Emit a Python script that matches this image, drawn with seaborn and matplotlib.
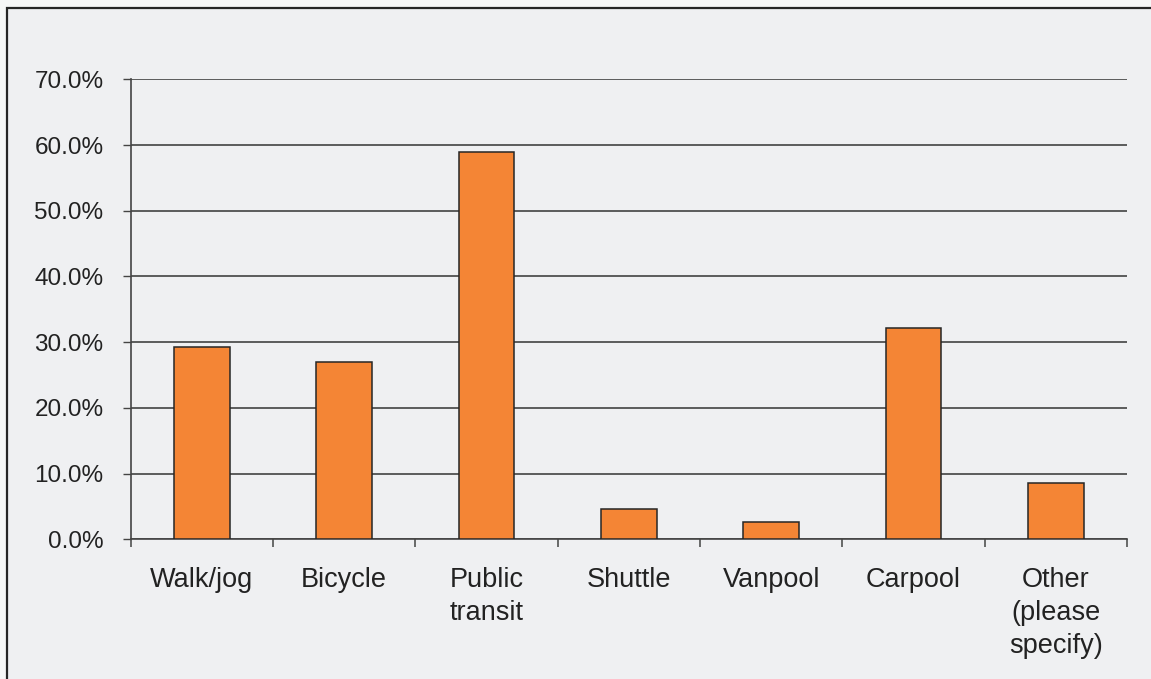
import matplotlib
matplotlib.use("Agg")
import matplotlib.pyplot as plt
from matplotlib.patches import Rectangle
from matplotlib.ticker import FuncFormatter, FixedLocator
import seaborn as sns
import pandas as pd

# Commute mode shares (percent of respondents)
modes = ["Walk/jog", "Bicycle", "Public\ntransit", "Shuttle", "Vanpool",
         "Carpool", "Other\n(please\nspecify)"]
shares = [29.2, 27.0, 59.0, 4.6, 2.7, 32.2, 8.5]
y_ticks = [0, 10, 20, 30, 40, 50, 60, 70]

df = pd.DataFrame({"mode": modes, "share": shares})

sns.set_theme(style="white")
plt.rcParams["font.family"] = ["Liberation Sans", "DejaVu Sans"]

W, H = 1151, 679
fig = plt.figure(figsize=(W / 100, H / 100), dpi=100, facecolor="#f6f7f7")

# Panel background with a dark frame on its left and top edges
frame = Rectangle((7 / W, -0.5), 2.0, 1.5 - 8 / H,
                  transform=fig.transFigure, facecolor="#eff0f2",
                  edgecolor="#262626", linewidth=1.6, zorder=-10)
fig.patches.append(frame)

ax = fig.add_axes([130.7 / W, 1 - 539.3 / H, (1127 - 130.7) / W, (539.3 - 79.3) / H])
ax.set_zorder(5)
ax.patch.set_alpha(0)

sns.barplot(data=df, x="mode", y="share", color="#f48535", edgecolor="#262626",
            linewidth=1.1, width=0.39, saturation=1, ax=ax, zorder=3)

ax.set_ylim(0, 70)
ax.set_xlim(-0.5, len(modes) - 0.5)
ax.yaxis.set_major_locator(FixedLocator(y_ticks))
ax.yaxis.set_major_formatter(FuncFormatter(lambda v, p: f"{v:.1f}%"))
ax.grid(axis="y", color="#333333", linewidth=1.1, zorder=1)
ax.set_axisbelow(True)

for side in ("top", "right"):
    ax.spines[side].set_visible(False)
for side in ("left", "bottom"):
    ax.spines[side].set_color("#444444")
    ax.spines[side].set_linewidth(1.2)

ax.set_xlabel("")
ax.set_ylabel("")
ax.tick_params(axis="y", which="major", direction="out", left=True, length=5.5,
               width=1, color="#444444", pad=14, labelsize=17.5, labelcolor="#222222")
ax.tick_params(axis="x", which="major", length=0, pad=20, labelsize=19.5,
               labelcolor="#222222")
ax.set_xticks([i + 0.5 for i in range(-1, len(modes))], minor=True)
ax.tick_params(axis="x", which="minor", direction="out", bottom=True, length=5.5,
               width=1.1, color="#444444")
for lbl in ax.get_xticklabels():
    lbl.set_linespacing(1.36)
    lbl.set_horizontalalignment("center")

fig.savefig("out.png", dpi=100, facecolor=fig.get_facecolor())
